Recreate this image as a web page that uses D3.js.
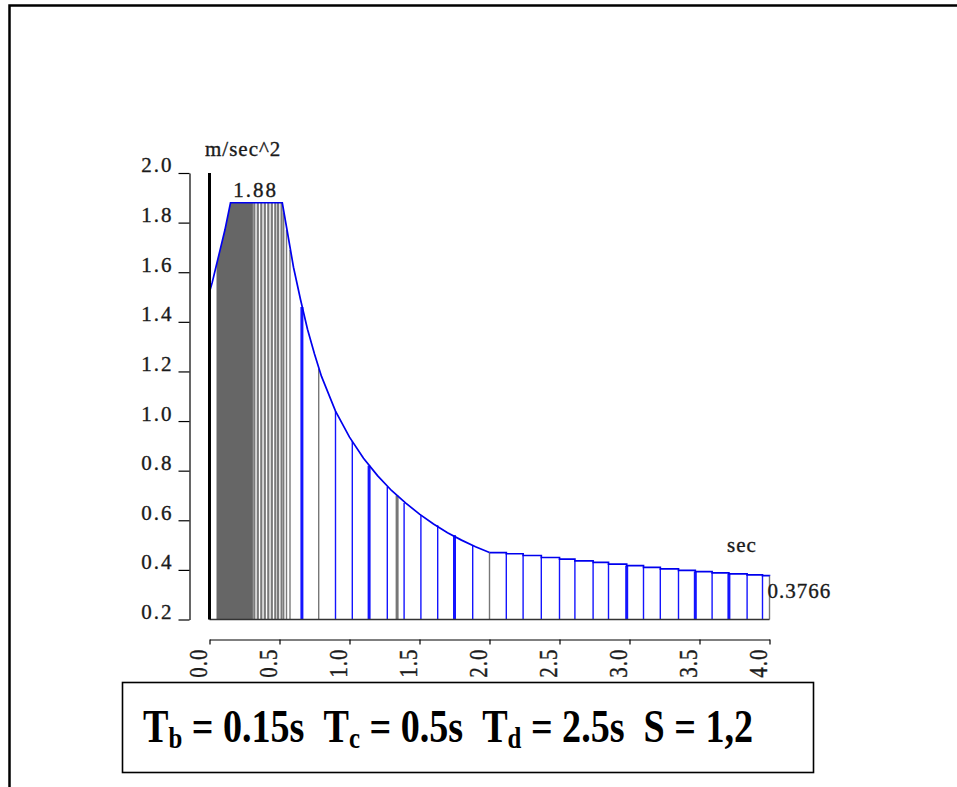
<!DOCTYPE html>
<html>
<head>
<meta charset="utf-8">
<script src="https://cdn.jsdelivr.net/npm/d3@7"></script>
<style>
  body { margin: 0; background: #fff; }
  svg { display: block; }
</style>
</head>
<body>
<div id="chart"></div>
<script>
// Design response spectrum

// outline of the spectrum (sec, m/sec^2)
var curvePeriods = [0.00, 0.02, 0.05, 0.08, 0.11, 0.15, 0.31, 0.52, 0.56, 0.60, 0.65, 0.70, 0.75, 0.80, 0.90,
  1.00, 1.10, 1.20, 1.30, 1.40, 1.50, 1.60, 1.70, 1.80, 1.90, 2.00, 2.12, 2.24, 2.37, 2.50, 2.61, 2.74,
  2.85, 2.98, 3.10, 3.22, 3.35, 3.47, 3.59, 3.71, 3.84, 3.95, 4.00];
var curveAccel = [1.52, 1.56, 1.63, 1.70, 1.77, 1.88, 1.88, 1.88, 1.75, 1.62, 1.49, 1.37, 1.27, 1.18, 1.04,
  0.935, 0.85, 0.78, 0.72, 0.67, 0.625, 0.585, 0.55, 0.52, 0.493, 0.47, 0.465, 0.458, 0.45, 0.443, 0.436, 0.43,
  0.423, 0.417, 0.41, 0.404, 0.398, 0.393, 0.388, 0.384, 0.38, 0.377, 0.3766];

// vertical bars under the outline
var stemPeriods = [0.32, 0.345, 0.37, 0.395, 0.42, 0.445, 0.47, 0.49, 0.515, 0.53, 0.55, 0.575, 0.66, 0.78,
  0.90, 1.02, 1.14, 1.27, 1.34, 1.39, 1.51, 1.63, 1.75, 1.88, 2.00, 2.12, 2.24, 2.37, 2.50, 2.61, 2.74, 2.85,
  2.98, 3.10, 3.22, 3.35, 3.47, 3.59, 3.71, 3.84, 3.95, 4.00];
var stemAccel = [1.88, 1.88, 1.88, 1.88, 1.88, 1.88, 1.88, 1.88, 1.88, 1.84, 1.77, 1.69, 1.46, 1.21,
  1.04, 0.92, 0.82, 0.735, 0.70, 0.67, 0.62, 0.58, 0.54, 0.50, 0.47, 0.465, 0.458, 0.45, 0.443, 0.436, 0.43, 0.423,
  0.417, 0.41, 0.404, 0.398, 0.393, 0.388, 0.384, 0.38, 0.377, 0.3766];

var yTicks = [0.2, 0.4, 0.6, 0.8, 1.0, 1.2, 1.4, 1.6, 1.8, 2.0];
var xTicks = [0.0, 0.5, 1.0, 1.5, 2.0, 2.5, 3.0, 3.5, 4.0];
var peakLabel = "1.88";
var endLabel = "0.3766";

var svgWidth = 957, svgHeight = 787;

var svg = d3.select("#chart")
  .append("svg")
  .attr("width", svgWidth)
  .attr("height", svgHeight);

// page frame (left and top edges only)
svg.append("path")
  .attr("d", "M9.5,787 V5.5 H957")
  .attr("fill", "none")
  .attr("stroke", "#000")
  .attr("stroke-width", 2.5);

// scales
var x = d3.scaleLinear().domain([0, 4]).range([209.5, 769.5]);
var y = d3.scaleLinear().domain([0.2, 2.0]).range([619.5, 173]);

var numFont = "'Liberation Serif', 'Times New Roman', serif";

var spectrum = curvePeriods.map((t, i) => ({t: t, a: curveAccel[i]}));
var stems = stemPeriods.map((t, i) => ({t: t, a: stemAccel[i]}));

// dense dark region under the rising part / plateau
var dense = spectrum.filter(d => d.t >= 0.05 && d.t <= 0.31);
svg.append("path")
  .datum(dense)
  .attr("d", d3.area().x(d => x(d.t)).y0(y(0.2)).y1(d => y(d.a)))
  .attr("fill", "#666");

// stems
var grayStems = [0.78, 1.34, 2.00, 4.00];
var thickStems = [0.66, 1.14, 1.34, 1.75, 2.98, 3.47, 3.71];
svg.append("g").selectAll("line")
  .data(stems)
  .enter()
  .append("line")
  .attr("x1", d => x(d.t))
  .attr("x2", d => x(d.t))
  .attr("y1", d => y(d.a))
  .attr("y2", y(0.2))
  .attr("stroke", d => d.t < 0.6 ? "#7a7a7a" : (grayStems.indexOf(d.t) >= 0 ? "#777" : "#1414ff"))
  .attr("stroke-width", d => d.t < 0.52 ? 2.2 : (thickStems.indexOf(d.t) >= 0 ? 3 : 1.4));

// baseline
svg.append("line")
  .attr("x1", x(0)).attr("x2", x(4))
  .attr("y1", y(0.2)).attr("y2", y(0.2))
  .attr("stroke", "#333")
  .attr("stroke-width", 1.5);

// outline: smooth part then stepped tail
var smooth = spectrum.filter(d => d.t <= 2.0);
var tail = spectrum.filter(d => d.t >= 2.0);
svg.append("path")
  .datum(smooth)
  .attr("d", d3.line().x(d => x(d.t)).y(d => y(d.a)))
  .attr("fill", "none")
  .attr("stroke", "#0000ee")
  .attr("stroke-width", 1.7);
svg.append("path")
  .datum(tail)
  .attr("d", d3.line().curve(d3.curveStepAfter).x(d => x(d.t)).y(d => y(d.a)))
  .attr("fill", "none")
  .attr("stroke", "#0000ee")
  .attr("stroke-width", 1.7);

// black line at T = 0
svg.append("line")
  .attr("x1", x(0)).attr("x2", x(0))
  .attr("y1", y(2.0)).attr("y2", y(0.2))
  .attr("stroke", "#000")
  .attr("stroke-width", 3);

// shared look for the small numeric labels
function numStyle(sel, spacing) {
  sel.attr("fill", "#1a1a1a")
    .attr("stroke", "#1a1a1a")
    .attr("stroke-width", 0.35)
    .style("font-family", numFont)
    .style("font-size", "21px")
    .style("letter-spacing", spacing + "px");
}

// y axis, set apart to the left
var yAxis = svg.append("g")
  .attr("transform", "translate(189.5,0)")
  .call(d3.axisLeft(y).tickValues(yTicks).tickSize(11).tickSizeOuter(0).tickPadding(5)
    .tickFormat(d3.format(".1f")));
yAxis.select(".domain").attr("stroke", "#000").attr("stroke-width", 1.2);
yAxis.selectAll(".tick line").attr("stroke", "#000").attr("stroke-width", 1.2);
yAxis.selectAll("text")
  .attr("dy", "-0.05em")
  .call(numStyle, 2);

// x axis, below the plot
var xAxis = svg.append("g")
  .attr("transform", "translate(0,639.5)")
  .call(d3.axisBottom(x).tickValues(xTicks).tickSize(5).tickSizeOuter(0)
    .tickFormat(d3.format(".1f")));
xAxis.select(".domain").attr("stroke", "#000").attr("stroke-width", 1.2);
xAxis.selectAll(".tick line").attr("stroke", "#000").attr("stroke-width", 1.2);
xAxis.selectAll("text")
  .attr("transform", "translate(-3,9) rotate(-90) scale(1,1.15)")
  .attr("x", 0).attr("y", 0).attr("dy", 0)
  .attr("text-anchor", "end")
  .call(numStyle, 1);

// unit labels and value callouts
svg.append("text")
  .attr("x", 205).attr("y", 156)
  .call(numStyle, 1)
  .text("m/sec^2");

svg.append("text")
  .attr("x", x(0.33)).attr("y", 197)
  .attr("text-anchor", "middle")
  .call(numStyle, 2)
  .text(peakLabel);

svg.append("text")
  .attr("x", 727).attr("y", 552)
  .call(numStyle, 1)
  .text("sec");

svg.append("text")
  .attr("x", x(4) - 2).attr("y", 598)
  .call(numStyle, 1)
  .text(endLabel);

// parameter box
svg.append("rect")
  .attr("x", 122.5).attr("y", 682.5)
  .attr("width", 691).attr("height", 90)
  .attr("fill", "none")
  .attr("stroke", "#000")
  .attr("stroke-width", 1.6);

var params = [["T", "b", " = 0.15s  "], ["T", "c", " = 0.5s  "], ["T", "d", " = 2.5s  "], ["S", "", " = 1,2"]];
var boxText = svg.append("text")
  .attr("x", 0).attr("y", 0)
  .attr("fill", "#000")
  .style("font-family", numFont)
  .style("font-weight", "bold")
  .style("font-size", "46px")
  .style("white-space", "pre");
params.forEach(function(p) {
  boxText.append("tspan").text(p[0]);
  if (p[1]) {
    boxText.append("tspan").attr("dy", 6).style("font-size", "30px").text(p[1]);
    boxText.append("tspan").attr("dy", -6).text(p[2]);
  } else {
    boxText.append("tspan").text(p[2]);
  }
});
var tw = boxText.node().getComputedTextLength();
boxText.attr("transform", "translate(143,742) scale(" + (609 / tw) + ",1)");
</script>
</body>
</html>
